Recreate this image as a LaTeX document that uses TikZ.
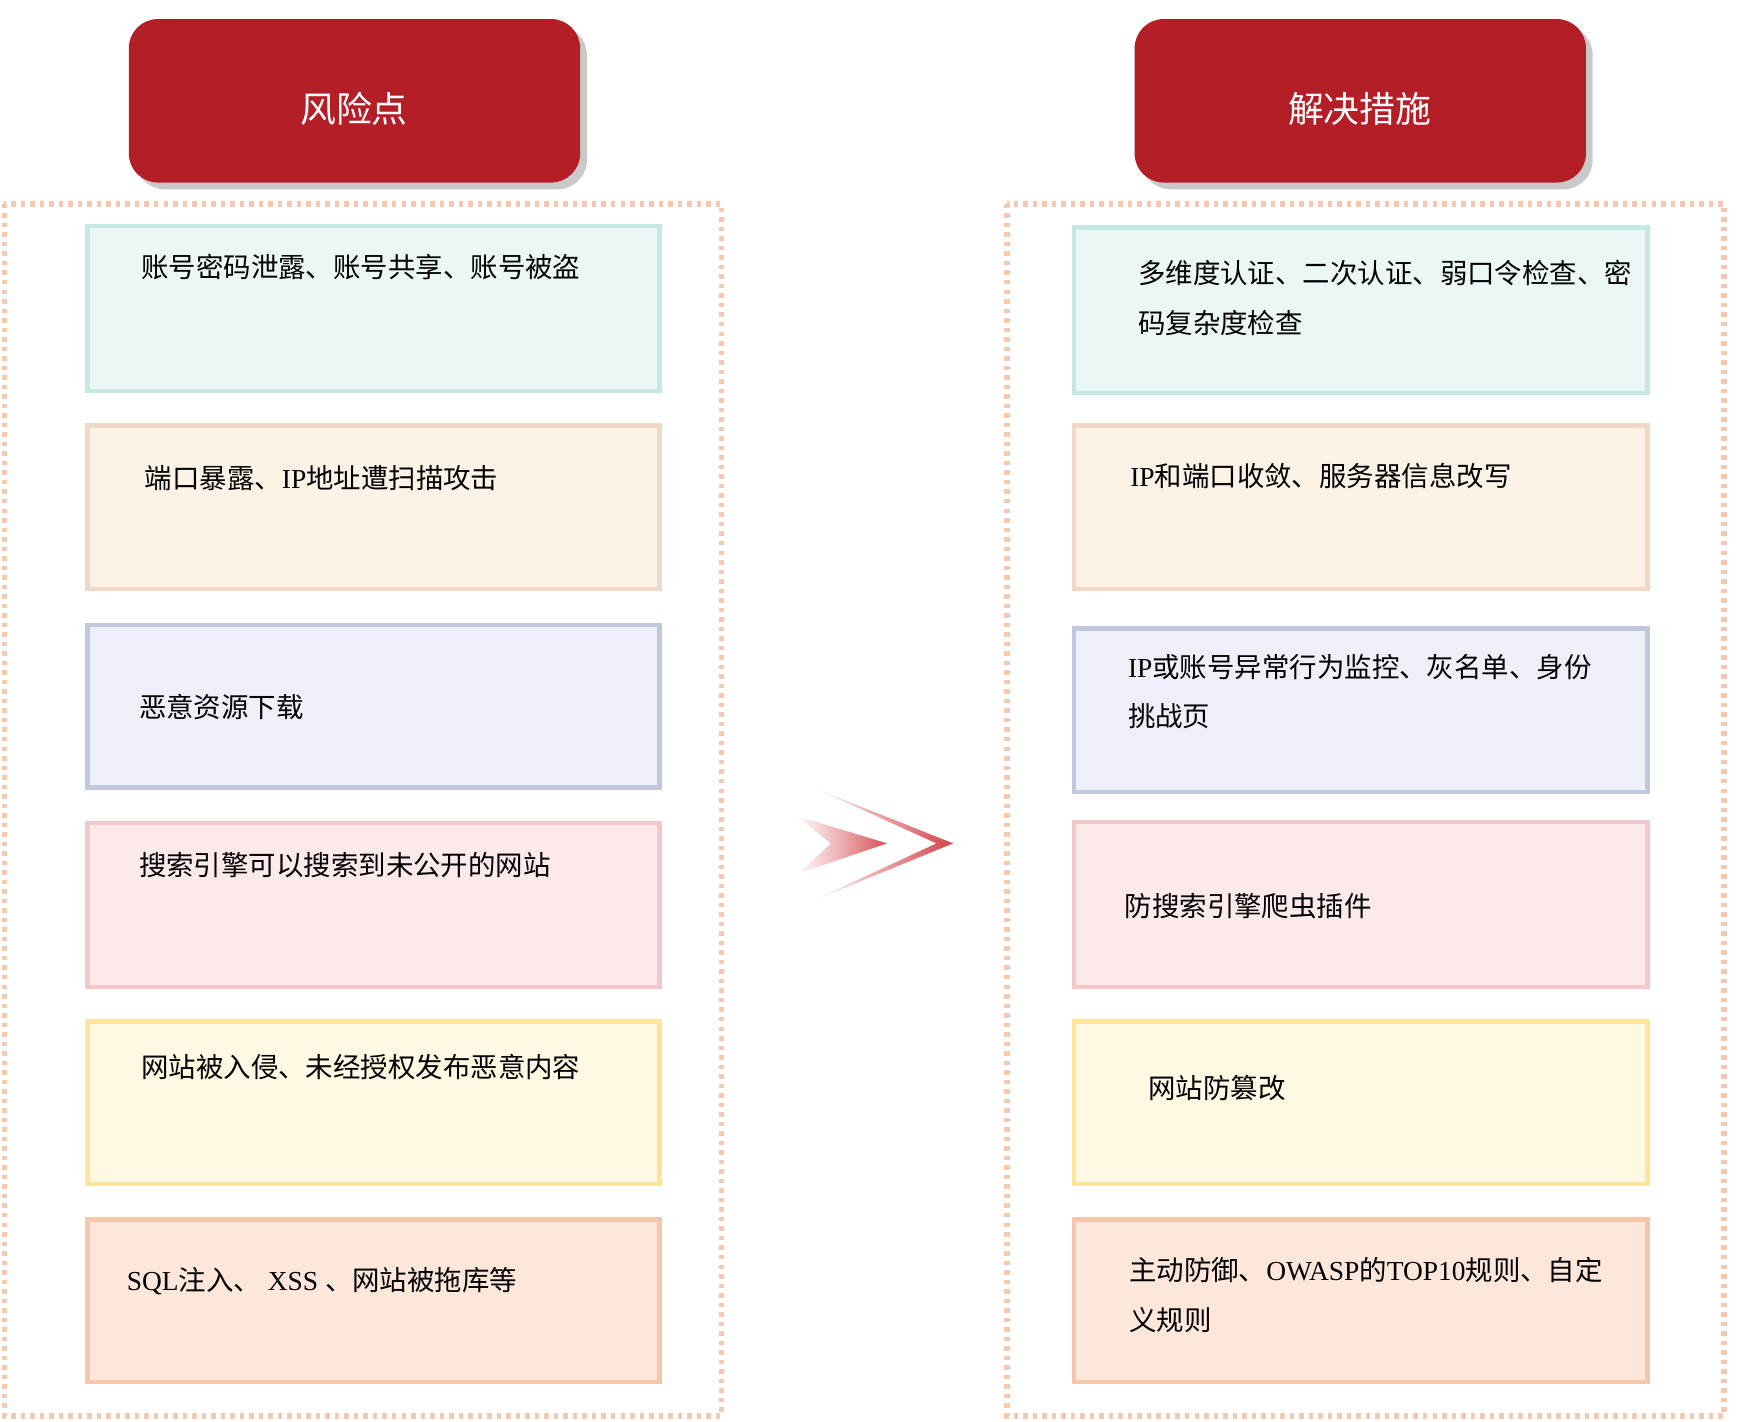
\documentclass[tikz,border=0pt]{standalone}
\usepackage{fontspec}
\setmainfont{Liberation Serif}
\newfontfamily\cjk{Noto Sans CJK SC}
\usetikzlibrary{shadows}
\newcommand\zh[1]{{\cjk #1}}
\definecolor{hdr}{HTML}{B41F27}
\definecolor{frm}{HTML}{F5C9B0}
\definecolor{b1}{HTML}{C5E9E2}\definecolor{f1}{HTML}{EBF7F6}
\definecolor{b2}{HTML}{F0D8C4}\definecolor{f2}{HTML}{FCF2E6}
\definecolor{b3}{HTML}{BFC8DD}\definecolor{f3}{HTML}{EDF0F9}
\definecolor{b4}{HTML}{F5C6CA}\definecolor{f4}{HTML}{FCE9EA}
\definecolor{b5}{HTML}{FFE597}\definecolor{f5}{HTML}{FFF8E2}
\definecolor{b6}{HTML}{F5C6AA}\definecolor{f6}{HTML}{FDE7DB}
\definecolor{arr}{HTML}{C8161E}
\tikzset{
 hdrbox/.style={fill=hdr,rounded corners=26pt,drop shadow={shadow xshift=6pt,shadow yshift=-6pt,opacity=0.35,fill=black!60}},
 frame/.style={draw=frm,line width=5pt,dash pattern=on 4pt off 4.5pt},
 card/.style={line width=4pt},
 txt/.style={anchor=base west,inner sep=0pt,font=\fontsize{24.5}{30}\selectfont},
 htxt/.style={text=white,font=\cjk\fontsize{32}{36}\selectfont}
}
\begin{document}
\begin{tikzpicture}[x=1pt,y=-1pt]
\useasboundingbox[fill=white] (0,0) rectangle (1570.5,1269.6);
% headers
\path[hdrbox] (115,17) rectangle (518,163);
\node[htxt] (h1) at (316,97) {风险点};
\path[hdrbox] (1013,17) rectangle (1416,163);
\node[htxt] (h2) at (1214,97) {解决措施};
% frames
\draw[frame] (4,182) rectangle (644,1264);
\draw[frame] (899,182) rectangle (1539,1264);
% cards
\foreach \i/\ya/\yb/\yc/\yd in {1/202/349/203/351,2/380/526/380/526,3/558/703/561/707,4/735/881/734/881,5/912/1057/912/1057,6/1089/1234/1089/1234}{
 \draw[card,draw=b\i,fill=f\i] (78,\ya) rectangle (589,\yb);
 \draw[card,draw=b\i,fill=f\i] (959,\yc) rectangle (1471,\yd);
}
% left texts
\node[txt] (l1) at (126,248) {\zh{账号密码泄露、账号共享、账号被盗}};
\node[txt] (l2) at (129,436) {\zh{端口暴露、}IP\zh{地址遭扫描攻击}};
\node[txt] (l3) at (124,641) {\zh{恶意资源下载}};
\node[txt] (l4) at (124,782) {\zh{搜索引擎可以搜索到未公开的网站}};
\node[txt] (l5) at (126,962) {\zh{网站被入侵、未经授权发布恶意内容}};
\node[txt] (l6) at (113,1152) {SQL\zh{注入、} XSS \zh{、网站被拖库等}};
% right texts
\node[txt] (r1a) at (1016,253) {\zh{多维度认证、二次认证、弱口令检查、密}};
\node[txt] (r1b) at (1016,298) {\zh{码复杂度检查}};
\node[txt] (r2) at (1009,434) {IP\zh{和端口收敛、服务器信息改写}};
\node[txt] (r3a) at (1007,605) {IP\zh{或账号异常行为监控、灰名单、身份}};
\node[txt] (r3b) at (1007,649) {\zh{挑战页}};
\node[txt] (r4) at (1004,818) {\zh{防搜索引擎爬虫插件}};
\node[txt] (r5) at (1025,981) {\zh{网站防篡改}};
\node[txt] (r6a) at (1008,1143) {\zh{主动防御、}OWASP\zh{的}TOP10\zh{规则、自定}};
\node[txt] (r6b) at (1008,1188) {\zh{义规则}};
% arrow
\shade[left color=white,right color=arr!80] (728,704) -- (851,753) -- (724,805) -- (836,753) -- cycle;
\shade[left color=white,right color=arr!75,middle color=arr!35] (710,728) -- (792,753) -- (712,780) -- (742,753) -- cycle;
\end{tikzpicture}
\end{document}
